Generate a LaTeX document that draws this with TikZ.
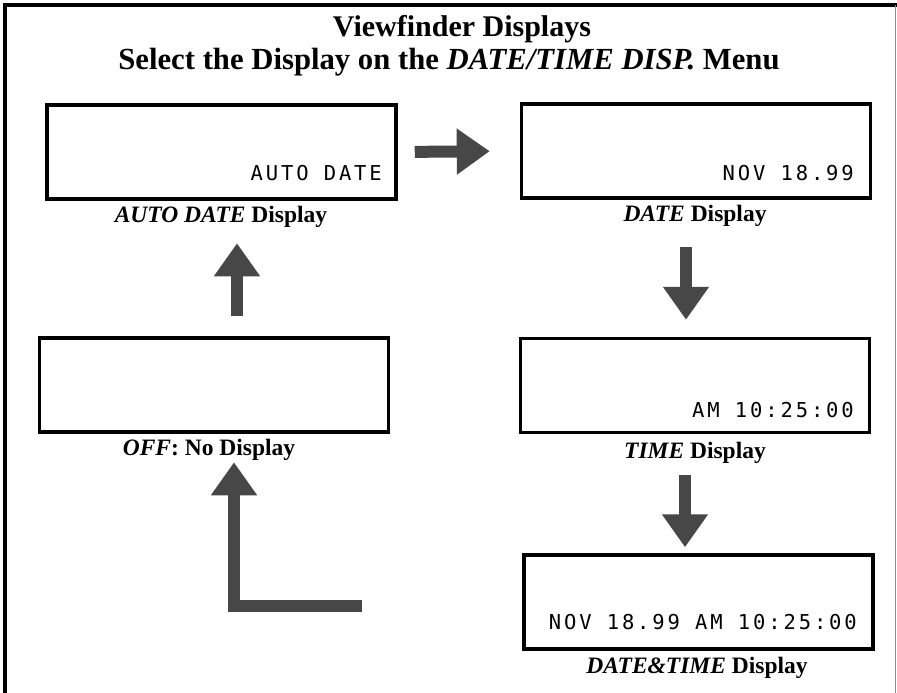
\documentclass[tikz,border=0pt]{standalone}
\usepackage{fontspec}
\setmainfont{Liberation Serif}
\newfontfamily\lcdfont[LetterSpace=14]{DejaVu Sans Mono}
\usetikzlibrary{arrows.meta}

\begin{document}
\begin{tikzpicture}[x=1pt,y=-1pt,
  disp/.style={draw,line width=3.5pt,fill=white,minimum width=349pt,
             minimum height=94pt,inner sep=0pt},
  lcd/.style={anchor=base east,inner sep=0pt,font=\lcdfont\fontsize{20.5}{24}\selectfont},
  capt/.style={anchor=base,inner sep=0pt,font=\bfseries\fontsize{23.5}{27}\selectfont},
  ttl/.style={anchor=base,inner sep=0pt,font=\bfseries\fontsize{30}{34}\selectfont},
  blk/.style={line width=12pt,draw=black!72,line join=miter,
             -{Triangle[width=44pt,length=33pt]}}]

\useasboundingbox (0,0) rectangle (897,693);
% frame
\draw[line width=4pt] (5,693) -- (5,5.5) -- (897,5.5);
\draw[line width=1pt,black!45] (895,5.5) -- (895,693);

\node[ttl] (ttl1) at (462,37) {Viewfinder Displays};
\node[ttl,font=\bfseries\fontsize{30.7}{34}\selectfont] (ttl2) at (449,70)
  {Select the Display on the \textit{DATE/TIME DISP.} Menu};

% display boxes
\node[disp] (auto) at (221.5,152) {};
\node[disp] (date) at (696,151)   {};
\node[disp] (off)  at (214,385)   {};
\node[disp] (time) at (695,385.5) {};
\node[disp] (dt)   at (698.5,602) {};

\node[lcd] (autotx) at (382,180) {AUTO DATE};
\node[lcd] (datetx) at (854,180) {NOV 18.99};
\node[lcd] (timetx) at (854,417) {AM 10:25:00};
\node[lcd] (dttx)   at (857,629) {NOV 18.99 AM 10:25:00};

\node[capt] (autocap) at (221,222) {\textit{AUTO DATE} Display};
\node[capt] (datecap) at (695,221) {\textit{DATE} Display};
\node[capt] (offcap)  at (209,455) {\textit{OFF}: No Display};
\node[capt] (timecap) at (695,458) {\textit{TIME} Display};
\node[capt] (dtcap)   at (697,673) {\textit{DATE\&TIME} Display};

% block arrows
\draw[blk,shorten <=17pt,shorten >=30pt] (auto.east) -- (date.west);
\draw[blk,shorten <=21pt,shorten >=17pt] ([xshift=-9pt]datecap.south) -- ([xshift=-9pt]time.north);
\draw[blk,shorten <=12pt,shorten >=6pt] ([xshift=-10pt]timecap.south) -- ([xshift=-13.5pt]dt.north);
\draw[blk,shorten <=20pt,shorten >=16pt] ([xshift=23pt]off.north) -- ([xshift=16pt]autocap.south);
\coordinate (lfoot) at (362,605.5);
\draw[blk,shorten >=2pt] (lfoot) -| ([xshift=25pt]offcap.south);

\end{tikzpicture}
\end{document}
